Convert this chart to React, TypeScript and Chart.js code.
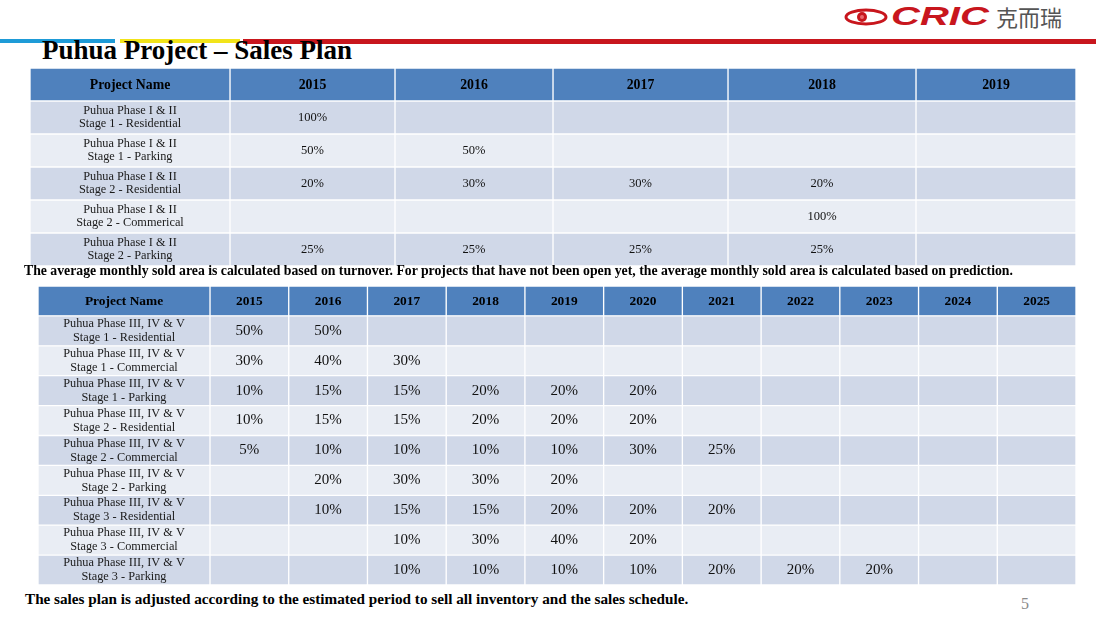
import React, { useEffect, useRef } from "react";
import { Chart, registerables } from "chart.js";

Chart.register(...registerables);

// ---------- data ----------
const t1Years = ["2015", "2016", "2017", "2018", "2019"];
const t1Projects = [
  ["Puhua Phase I & II", "Stage 1 - Residential"],
  ["Puhua Phase I & II", "Stage 1 - Parking"],
  ["Puhua Phase I & II", "Stage 2 - Residential"],
  ["Puhua Phase I & II", "Stage 2 - Commerical"],
  ["Puhua Phase I & II", "Stage 2 - Parking"],
];
const t1Values: (number | null)[][] = [
  [100, null, null, null, null],
  [50, 50, null, null, null],
  [20, 30, 30, 20, null],
  [null, null, null, 100, null],
  [25, 25, 25, 25, null],
];

const t2Years = ["2015", "2016", "2017", "2018", "2019", "2020", "2021", "2022", "2023", "2024", "2025"];
const t2Projects = [
  ["Puhua Phase III, IV & V", "Stage 1 - Residential"],
  ["Puhua Phase III, IV & V", "Stage 1 - Commercial"],
  ["Puhua Phase III, IV & V", "Stage 1 - Parking"],
  ["Puhua Phase III, IV & V", "Stage 2 - Residential"],
  ["Puhua Phase III, IV & V", "Stage 2 - Commercial"],
  ["Puhua Phase III, IV & V", "Stage 2 - Parking"],
  ["Puhua Phase III, IV & V", "Stage 3 - Residential"],
  ["Puhua Phase III, IV & V", "Stage 3 - Commercial"],
  ["Puhua Phase III, IV & V", "Stage 3 - Parking"],
];
const t2Values: (number | null)[][] = [
  [50, 50, null, null, null, null, null, null, null, null, null],
  [30, 40, 30, null, null, null, null, null, null, null, null],
  [10, 15, 15, 20, 20, 20, null, null, null, null, null],
  [10, 15, 15, 20, 20, 20, null, null, null, null, null],
  [5, 10, 10, 10, 10, 30, 25, null, null, null, null],
  [null, 20, 30, 30, 20, null, null, null, null, null, null],
  [null, 10, 15, 15, 20, 20, 20, null, null, null, null],
  [null, null, 10, 30, 40, 20, null, null, null, null, null],
  [null, null, 10, 10, 10, 10, 20, 20, 20, null, null],
];

const headerLabel = "Project Name";
const note1 =
  "The average monthly sold area is calculated based on turnover. For projects that have not been open yet, the average monthly sold area is calculated based on prediction.";
const note2 =
  "The sales plan is adjusted according to the estimated period to sell all inventory and the sales schedule.";

// ---------- layout / style ----------
const HEADER_BG = "#4F81BD";
const ROW_DARK = "#D0D8E8";
const ROW_LIGHT = "#E9EDF4";
const SERIF = "'Liberation Serif', 'Times New Roman', serif";

type TableSpec = {
  years: string[];
  projects: string[][];
  values: (number | null)[][];
  colWidths: number[];
  headerFont: string;
  nameFont: string;
  valueFont: string;
  nameLineGap: number;
};

function makeEdges(widths: number[]) {
  const e = [0];
  widths.forEach((w) => e.push(e[e.length - 1] + w));
  return e;
}

function TableChart({ spec, left, top, width, height }: { spec: TableSpec; left: number; top: number; width: number; height: number }) {
  const ref = useRef<HTMLCanvasElement | null>(null);
  useEffect(() => {
    if (!ref.current) return;
    const edges = makeEdges(spec.colWidths);
    const total = edges[edges.length - 1];
    const rowLabels = [headerLabel, ...spec.projects.map((p) => p.join(" "))];
    const nCols = spec.years.length + 1;
    const datasets = Array.from({ length: nCols }, (_, c) => ({
      data: rowLabels.map(() => [edges[c], edges[c + 1]]),
      backgroundColor: rowLabels.map((_, r) => (r === 0 ? HEADER_BG : r % 2 === 1 ? ROW_DARK : ROW_LIGHT)),
      borderColor: "#FFFFFF",
      borderWidth: 1,
      borderSkipped: false as any,
      grouped: false,
      barPercentage: 1,
      categoryPercentage: 1,
    }));

    const textPlugin = {
      id: "tableText",
      afterDatasetsDraw(chart: any) {
        const ctx = chart.ctx;
        const xs = chart.scales.x;
        const ys = chart.scales.y;
        ctx.save();
        ctx.textAlign = "center";
        ctx.textBaseline = "middle";
        ctx.fillStyle = "#000";
        const cx = (c: number) => xs.getPixelForValue((edges[c] + edges[c + 1]) / 2);
        // header
        ctx.font = spec.headerFont;
        ctx.fillText(headerLabel, cx(0), ys.getPixelForValue(0) + 1);
        spec.years.forEach((y, i) => ctx.fillText(y, cx(i + 1), ys.getPixelForValue(0) + 1));
        // body
        spec.projects.forEach((p, r) => {
          const yc = ys.getPixelForValue(r + 1);
          ctx.font = spec.nameFont;
          ctx.fillStyle = "#1a1a1a";
          ctx.fillText(p[0], cx(0), yc - spec.nameLineGap / 2);
          ctx.fillText(p[1], cx(0), yc + spec.nameLineGap / 2);
          ctx.font = spec.valueFont;
          ctx.fillStyle = "#111";
          spec.values[r].forEach((v, c) => {
            if (v === null) return;
            ctx.fillText(v + "%", cx(c + 1), yc);
          });
        });
        ctx.restore();
      },
    };

    const chart = new Chart(ref.current, {
      type: "bar",
      data: { labels: rowLabels, datasets: datasets as any },
      options: {
        indexAxis: "y",
        responsive: false,
        animation: false,
        maintainAspectRatio: false,
        layout: { padding: 0 },
        plugins: { legend: { display: false }, tooltip: { enabled: false } },
        scales: {
          x: { type: "linear", display: false, min: 0, max: total },
          y: { type: "category", display: false, offset: true },
        },
      },
      plugins: [textPlugin],
    });
    return () => chart.destroy();
  }, [spec]);
  return (
    <canvas
      ref={ref}
      width={width}
      height={height}
      style={{ position: "absolute", left, top, width, height, display: "block" }}
    />
  );
}

const t1Spec: TableSpec = {
  years: t1Years,
  projects: t1Projects,
  values: t1Values,
  colWidths: [200, 165, 158, 175, 188, 160],
  headerFont: `bold 13.8px ${SERIF}`,
  nameFont: `12.3px ${SERIF}`,
  valueFont: `12.5px ${SERIF}`,
  nameLineGap: 13.5,
};

const t2Spec: TableSpec = {
  years: t2Years,
  projects: t2Projects,
  values: t2Values,
  colWidths: [172, ...t2Years.map(() => (1038 - 172) / 11)],
  headerFont: `bold 13.4px ${SERIF}`,
  nameFont: `12.3px ${SERIF}`,
  valueFont: `15px ${SERIF}`,
  nameLineGap: 14,
};

export default function App() {
  return (
    <div
      style={{
        position: "absolute",
        left: 0,
        top: 0,
        width: 1096,
        height: 617,
        background: "#fff",
        overflow: "hidden",
        fontFamily: SERIF,
      }}
    >
      {/* logo */}
      <svg style={{ position: "absolute", left: 843, top: 5 }} width={48} height={24}>
        <ellipse cx={23} cy={12} rx={20} ry={7} fill="none" stroke="#C8161D" strokeWidth={3} />
        <circle cx={19} cy={12} r={5} fill="#C8161D" />
        <circle cx={19} cy={12} r={2} fill="#E86A6F" />
      </svg>
      <div
        style={{
          position: "absolute",
          left: 891,
          top: 1,
          fontFamily: "'Liberation Sans', Arial, sans-serif",
          fontWeight: 900,
          fontStyle: "italic",
          fontSize: 25,
          color: "#C8161D",
          transform: "scaleX(1.6)",
          transformOrigin: "left top",
          lineHeight: "30px",
          whiteSpace: "nowrap",
        }}
      >
        CRIC
      </div>
      <div
        style={{
          position: "absolute",
          left: 996,
          top: 3,
          fontFamily: "'Noto Sans CJK SC', sans-serif",
          fontSize: 22,
          color: "#555",
          lineHeight: "26px",
          whiteSpace: "nowrap",
        }}
      >
        克而瑞
      </div>

      {/* colour bars */}
      <div style={{ position: "absolute", left: 0, top: 39, width: 115, height: 4, background: "#1E9BD7" }} />
      <div style={{ position: "absolute", left: 120, top: 39, width: 120, height: 4, background: "#F2E41A" }} />
      <div style={{ position: "absolute", left: 243, top: 39, width: 853, height: 5, background: "#C8161D" }} />

      {/* title */}
      <div
        style={{
          position: "absolute",
          left: 42,
          top: 34,
          fontSize: 27,
          fontWeight: "bold",
          color: "#000",
          lineHeight: "32px",
          whiteSpace: "nowrap",
        }}
      >
        Puhua Project – Sales Plan
      </div>

      <TableChart spec={t1Spec} left={30} top={68} width={1046} height={198} />

      <div
        style={{
          position: "absolute",
          left: 24,
          top: 263,
          fontSize: 13.75,
          fontWeight: "bold",
          color: "#000",
          lineHeight: "16px",
          whiteSpace: "nowrap",
        }}
      >
        {note1}
      </div>

      <TableChart spec={t2Spec} left={38} top={286} width={1038} height={299} />

      <div
        style={{
          position: "absolute",
          left: 25,
          top: 590,
          fontSize: 15.2,
          fontWeight: "bold",
          color: "#000",
          lineHeight: "17px",
          whiteSpace: "nowrap",
        }}
      >
        {note2}
      </div>

      <div
        style={{
          position: "absolute",
          left: 1021,
          top: 595,
          fontSize: 16,
          color: "#8a8a8a",
          lineHeight: "18px",
        }}
      >
        5
      </div>
    </div>
  );
}
